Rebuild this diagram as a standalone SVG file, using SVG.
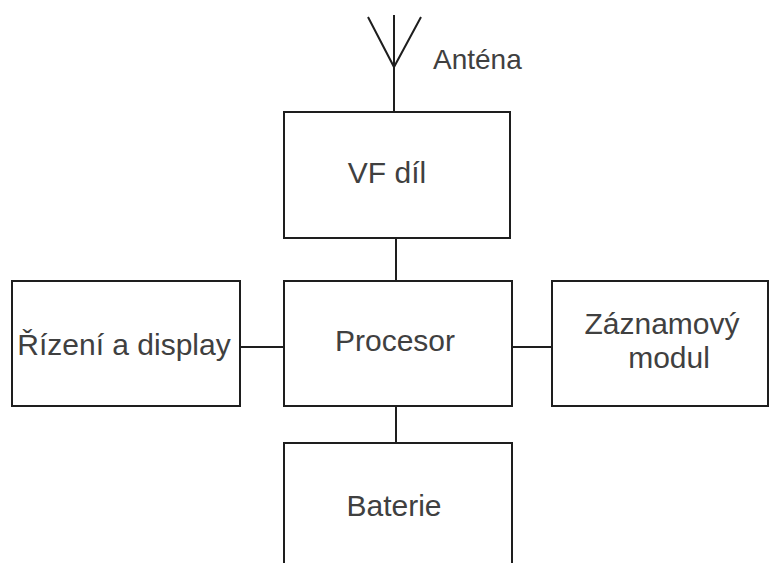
<svg xmlns="http://www.w3.org/2000/svg" width="770" height="563" viewBox="0 0 770 563">
<style>
.box{fill:#fff;stroke:#1e1e1e;stroke-width:2}
.ln{stroke:#1e1e1e;stroke-width:2;fill:none}
text{font-family:"Liberation Sans",Arial,sans-serif;font-size:30px;fill:#404040;text-anchor:middle}
</style>
<rect width="770" height="563" fill="#fff"/>
<g id="connectors">
<path class="ln" d="M394,15 V112"/>
<path class="ln" d="M368,17 L394,67 L421,17" stroke-width="1.6"/>
<path class="ln" d="M396,238 V281"/>
<path class="ln" d="M240,347 H284"/>
<path class="ln" d="M512,347 H552"/>
<path class="ln" d="M396,406 V443"/>
</g>
<g id="antena">
<text x="433" y="69" style="text-anchor:start;font-size:28px">Anténa</text>
</g>
<g id="vf">
<rect class="box" x="284" y="112" width="226" height="126"/>
<text x="387" y="183">VF díl</text>
</g>
<g id="procesor">
<rect class="box" x="284" y="281" width="228" height="125"/>
<text x="395" y="351">Procesor</text>
</g>
<g id="rizeni">
<rect class="box" x="12" y="281" width="228" height="125"/>
<text x="124" y="355">Řízení a display</text>
</g>
<g id="zaznam">
<rect class="box" x="552" y="281" width="216" height="125"/>
<text x="662" y="334">Záznamový</text>
<text x="669" y="368">modul</text>
</g>
<g id="baterie">
<rect class="box" x="284" y="443" width="228" height="140"/>
<text x="394" y="516">Baterie</text>
</g>
</svg>
